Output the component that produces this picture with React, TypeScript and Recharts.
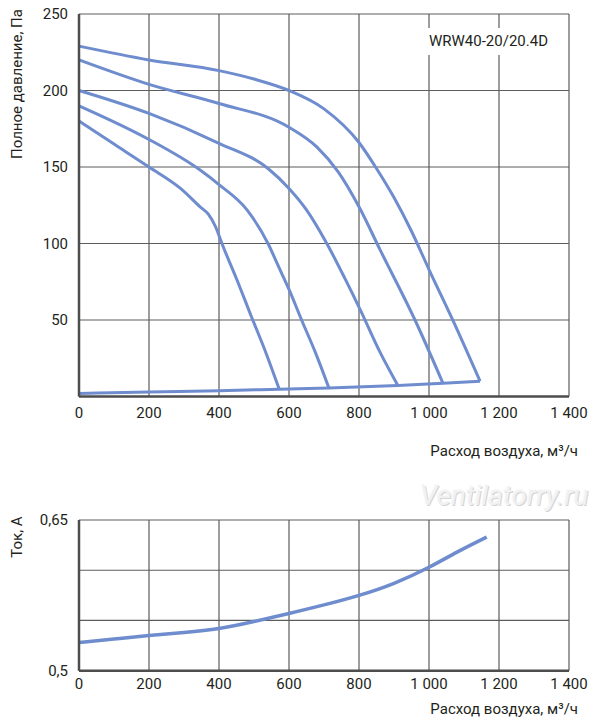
import { LineChart, Line, XAxis, YAxis, CartesianGrid } from "recharts";

const flowTicks = [0, 200, 400, 600, 800, 1000, 1200, 1400];
const pressureTicks = [0, 50, 100, 150, 200, 250];
const currentTicks = [0.5, 0.55, 0.6, 0.65];

// fan curves, [расход м³/ч, давление Па]
const speed1 = [[0, 229], [200, 220], [400, 213], [500, 207.5], [600, 200], [700, 188], [800, 166], [850, 149], [900, 130], [950, 108], [1000, 83], [1070, 49], [1146, 10]];
const speed2 = [[0, 220], [200, 204], [400, 191.5], [600, 176], [680, 163], [740, 147], [800, 124], [860, 96], [960, 50], [1040, 8.6]];
const speed3 = [[0, 200], [200, 185], [400, 165.5], [540, 149], [600, 136], [650, 122], [708, 100], [760, 77], [803, 57], [860, 29], [911, 7.2]];
const speed4 = [[0, 190], [200, 168], [346, 148], [400, 138.5], [480, 122], [540, 100], [570, 85], [600, 70], [636, 50], [675, 29], [714, 5.6]];
const speed5 = [[0, 180], [100, 165], [200, 150], [290, 136], [346, 124], [370, 119], [390, 111], [410, 99], [450, 77], [493, 52], [535, 28], [572, 4.8]];
// network line through the curve ends
const network = [[0, 2], [200, 3], [400, 3.8], [572, 4.8], [714, 5.6], [911, 7.2], [1040, 8.6], [1146, 10]];

// ток, А
const current = [[0, 0.528], [100, 0.5315], [200, 0.535], [300, 0.538], [400, 0.542], [500, 0.549], [600, 0.557], [700, 0.5655], [800, 0.575], [900, 0.587], [1000, 0.603], [1080, 0.618], [1165, 0.633]];

const pressureCurves = [speed1, speed2, speed3, speed4, speed5, network];

const BLUE = "#6e8cce";
const INK = "#231f20";
const FONT = "Roboto, sans-serif";

const toPoints = (pairs: number[][]) => pairs.map(([q, v]) => ({ q, v }));

const flowLabel = (v: number) =>
  v >= 1000 ? `${Math.floor(v / 1000)} ${String(v % 1000).padStart(3, "0")}` : String(v);

const tickStyle = { fill: INK, fontSize: 15, fontFamily: FONT };

function FlowAxis({ height, margin }: { height: number; margin: number }) {
  return (
    <XAxis
      dataKey="q"
      type="number"
      domain={[0, 1400]}
      ticks={flowTicks}
      tickFormatter={flowLabel}
      tick={tickStyle}
      tickLine={false}
      tickSize={0}
      tickMargin={margin}
      axisLine={{ stroke: "#4d4d4d", strokeWidth: 2.5 }}
      height={height}
      interval={0}
    />
  );
}

function VerticalTitle({ text, cx, cy, w }: { text: string; cx: number; cy: number; w: number }) {
  return (
    <div
      style={{
        position: "absolute",
        left: cx - w / 2,
        top: cy - 10,
        width: w,
        height: 20,
        lineHeight: "20px",
        textAlign: "center",
        transform: "rotate(-90deg)",
        fontFamily: FONT,
        fontSize: 15,
        color: INK,
        whiteSpace: "nowrap",
      }}
    >
      {text}
    </div>
  );
}

export default function App() {
  return (
    <div style={{ position: "absolute", left: 0, top: 0, width: 600, height: 725, background: "#fff" }}>
      {/* Pressure chart */}
      <div style={{ position: "absolute", left: 0, top: 0 }}>
        <LineChart width={600} height={440} margin={{ top: 14, right: 31, left: 0, bottom: 0 }}>
          <CartesianGrid stroke="#5c5c5c" strokeWidth={1.2} />
          {FlowAxis({ height: 43.5, margin: 11 })}
          <YAxis
            type="number"
            domain={[0, 250]}
            ticks={pressureTicks}
            tickFormatter={(v: number) => (v === 0 ? "" : String(v))}
            tick={tickStyle}
            tickLine={false}
            tickSize={0}
            tickMargin={11}
            axisLine={{ stroke: "#4d4d4d", strokeWidth: 2.5 }}
            width={79}
          />
          {pressureCurves.map((c, i) => (
            <Line
              key={i}
              data={toPoints(c)}
              dataKey="v"
              type="monotone"
              stroke={BLUE}
              strokeWidth={3}
              dot={false}
              activeDot={false}
              isAnimationActive={false}
            />
          ))}
        </LineChart>
      </div>

      {/* Current chart */}
      <div style={{ position: "absolute", left: 0, top: 470 }}>
        <LineChart width={600} height={255} margin={{ top: 50, right: 31, left: 0, bottom: 0 }}>
          <CartesianGrid stroke="#5c5c5c" strokeWidth={1.2} />
          {FlowAxis({ height: 54.3, margin: 8 })}
          <YAxis
            type="number"
            domain={[0.5, 0.65]}
            ticks={currentTicks}
            tickFormatter={(v: number) => (v === 0.65 ? "0,65" : v === 0.5 ? "0,5" : "")}
            tick={tickStyle}
            tickLine={false}
            tickSize={0}
            tickMargin={11}
            axisLine={{ stroke: "#4d4d4d", strokeWidth: 2.5 }}
            width={79}
          />
          <Line
            data={toPoints(current)}
            dataKey="v"
            type="natural"
            stroke={BLUE}
            strokeWidth={3.5}
            dot={false}
            activeDot={false}
            isAnimationActive={false}
          />
        </LineChart>
      </div>

      {/* model label */}
      <div
        style={{
          position: "absolute",
          left: 427,
          top: 28,
          width: 124,
          height: 27,
          background: "#fff",
          fontFamily: FONT,
          fontSize: 15,
          lineHeight: "27px",
          color: INK,
          paddingLeft: 2,
          boxSizing: "border-box",
          whiteSpace: "nowrap",
        }}
      >
        WRW40-20/20.4D
      </div>

      <VerticalTitle text="Полное давление, Па" cx={17} cy={84} w={170} />
      <VerticalTitle text="Ток, А" cx={17} cy={537} w={60} />

      <div
        style={{
          position: "absolute",
          right: 22,
          top: 442,
          fontFamily: FONT,
          fontSize: 15,
          color: INK,
          whiteSpace: "nowrap",
        }}
      >
        Расход воздуха, м³/ч
      </div>
      <div
        style={{
          position: "absolute",
          right: 22,
          top: 700,
          fontFamily: FONT,
          fontSize: 15,
          color: INK,
          whiteSpace: "nowrap",
        }}
      >
        Расход воздуха, м³/ч
      </div>

      {/* watermark */}
      <div
        style={{
          position: "absolute",
          left: 420,
          top: 479,
          fontFamily: FONT,
          fontStyle: "italic",
          fontSize: 28,
          color: "#f1f1f1",
          textShadow: "1px 1px 0 #d4d4d4, -1px -1px 0 #fafafa",
          whiteSpace: "nowrap",
        }}
      >
        Ventilatorry.ru
      </div>
    </div>
  );
}
